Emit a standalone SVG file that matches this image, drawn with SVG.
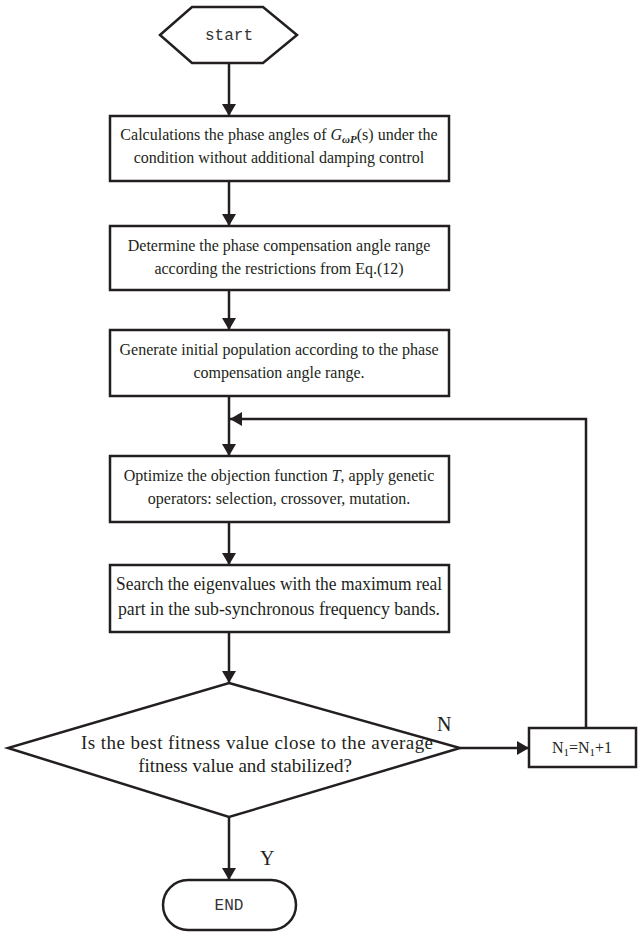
<svg xmlns="http://www.w3.org/2000/svg" width="641" height="937" viewBox="0 0 641 937">
<defs>
<marker id="ah" markerWidth="12" markerHeight="14" refX="12" refY="7" orient="auto" markerUnits="userSpaceOnUse">
<path d="M0,0 L12,7 L0,14 Z" fill="#231f20"/>
</marker>
<style>
.sh{fill:#fff;stroke:#231f20;stroke-width:2.5}
.ln{fill:none;stroke:#231f20;stroke-width:2.5}
.t{font-family:"Liberation Serif","Times New Roman",serif;font-size:16px;fill:#231f20;text-anchor:middle}
.tb{font-family:"Liberation Serif","Times New Roman",serif;font-size:18px;fill:#231f20;text-anchor:middle}
.td{font-family:"Liberation Serif","Times New Roman",serif;font-size:19px;fill:#231f20;text-anchor:middle}
.m{font-family:"Liberation Mono","Courier New",monospace;font-size:16px;fill:#333;text-anchor:middle}
.lab{font-family:"Liberation Serif","Times New Roman",serif;font-size:20px;fill:#231f20}
</style>
</defs>
<rect width="641" height="937" fill="#fff"/>
<g id="connectors">
<line class="ln" x1="229" y1="63" x2="229" y2="116" marker-end="url(#ah)"/>
<line class="ln" x1="229" y1="181" x2="229" y2="226" marker-end="url(#ah)"/>
<line class="ln" x1="229" y1="290" x2="229" y2="330" marker-end="url(#ah)"/>
<line class="ln" x1="229" y1="396" x2="229" y2="456" marker-end="url(#ah)"/>
<line class="ln" x1="229" y1="522" x2="229" y2="565" marker-end="url(#ah)"/>
<line class="ln" x1="229" y1="632" x2="229" y2="683" marker-end="url(#ah)"/>
<line class="ln" x1="229" y1="817" x2="229" y2="880" marker-end="url(#ah)"/>
<line class="ln" x1="460" y1="748" x2="529" y2="748" marker-end="url(#ah)"/>
<polyline class="ln" points="586,728 586,419 230,419" marker-end="url(#ah)"/>
<text class="lab" x="437" y="731">N</text>
<text class="lab" x="260" y="865">Y</text>
</g>
<g id="start">
<polygon class="sh" points="160,35 192,7 263,7 297,35 263,63 192,63"/>
<text class="m" x="229" y="40">start</text>
</g>
<g id="step1">
<rect class="sh" x="110" y="116" width="339" height="65"/>
<text class="t" x="279" y="140">Calculations the phase angles of <tspan font-style="italic">G</tspan><tspan font-size="11" font-weight="bold" font-style="italic" dy="3">ωP</tspan><tspan dy="-3">(s) under the</tspan></text>
<text class="t" x="279" y="163">condition without additional damping control</text>
</g>
<g id="step2">
<rect class="sh" x="110" y="226" width="339" height="64"/>
<text class="t" x="279" y="251">Determine the phase compensation angle range</text>
<text class="t" x="279" y="274">according the restrictions from Eq.(12)</text>
</g>
<g id="step3">
<rect class="sh" x="110" y="330" width="339" height="66"/>
<text class="t" x="279" y="355">Generate initial population according to the phase</text>
<text class="t" x="279" y="378">compensation angle range.</text>
</g>
<g id="step4">
<rect class="sh" x="110" y="456" width="339" height="66"/>
<text class="t" x="279" y="481">Optimize the objection function <tspan font-style="italic">T</tspan>, apply genetic</text>
<text class="t" x="279" y="504">operators: selection, crossover, mutation.</text>
</g>
<g id="step5">
<rect class="sh" x="110" y="565" width="339" height="67"/>
<text class="tb" x="279" y="590" textLength="326" lengthAdjust="spacingAndGlyphs">Search the eigenvalues with the maximum real</text>
<text class="tb" x="279" y="615" textLength="322" lengthAdjust="spacingAndGlyphs">part in the sub-synchronous frequency bands.</text>
</g>
<g id="decision">
<polygon class="sh" points="229,683 460,748 229,817 8,748"/>
<text class="td" x="257" y="749" textLength="352" lengthAdjust="spacing">Is the best fitness value close to the average</text>
<text class="td" x="245" y="772">fitness value and stabilized?</text>
</g>
<g id="counter">
<rect class="sh" x="529" y="728" width="107" height="39"/>
<text class="t" x="582" y="753">N<tspan font-size="11" dy="3">1</tspan><tspan dy="-3">=N</tspan><tspan font-size="11" dy="3">1</tspan><tspan dy="-3">+1</tspan></text>
</g>
<g id="end">
<rect class="sh" x="163" y="880" width="133" height="50" rx="25"/>
<text class="m" x="229" y="910">END</text>
</g>
</svg>
